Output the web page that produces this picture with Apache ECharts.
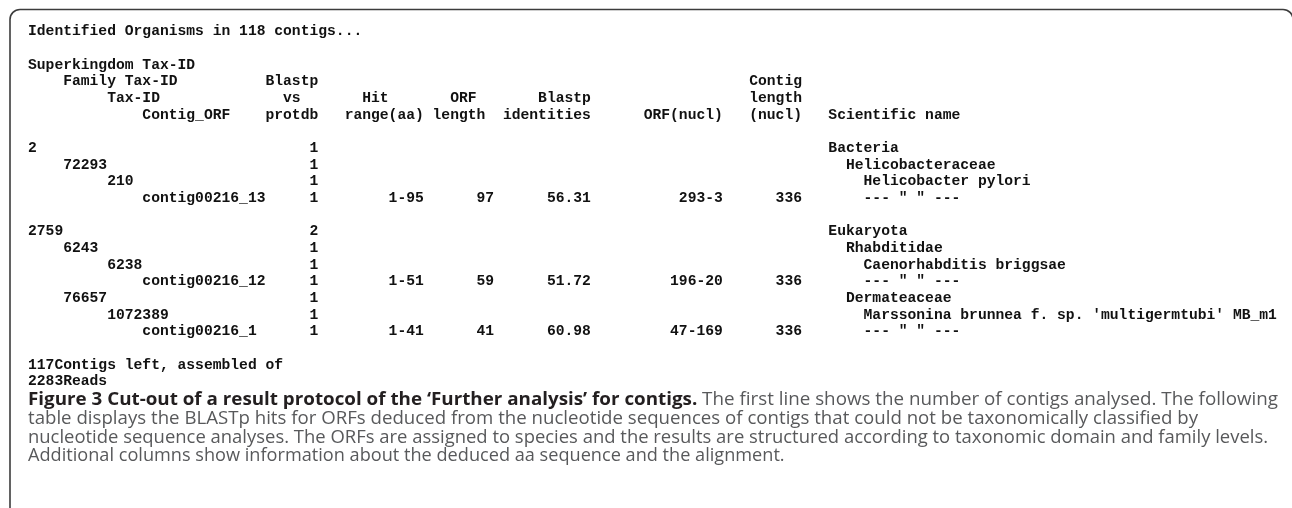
<!DOCTYPE html>
<html><head><meta charset="utf-8">
<script src="https://cdn.jsdelivr.net/npm/echarts@6/dist/echarts.min.js"></script>
<style>html,body{margin:0;padding:0;background:#fff}#c{width:1292px;height:508px}</style>
</head><body><div id="c"></div>
<script>
// ---------------- data ----------------
const contigsAnalysed = 118;
const contigsLeft = 117;
const readsAssembled = 2283;

const rowGroup   = [0, 0, 0, 0, 1, 1, 1, 1, 1, 1, 1];
const rowLevel   = [0, 1, 2, 3, 0, 1, 2, 3, 1, 2, 3];
const rowTaxId   = ['2', '72293', '210', 'contig00216_13', '2759', '6243', '6238', 'contig00216_12', '76657', '1072389', 'contig00216_1'];
const rowBlastpHits = [1, 1, 1, 1, 2, 1, 1, 1, 1, 1, 1];
const rowHitRange   = ['', '', '', '1-95', '', '', '', '1-51', '', '', '1-41'];
const rowOrfLength  = [null, null, null, 97, null, null, null, 59, null, null, 41];
const rowIdentities = [null, null, null, 56.31, null, null, null, 51.72, null, null, 60.98];
const rowOrfNucl    = ['', '', '', '293-3', '', '', '', '196-20', '', '', '47-169'];
const rowContigLen  = [null, null, null, 336, null, null, null, 336, null, null, 336];
const rowName = ['Bacteria', 'Helicobacteraceae', 'Helicobacter pylori', '--- " " ---',
                 'Eukaryota', 'Rhabditidae', 'Caenorhabditis briggsae', '--- " " ---',
                 'Dermateaceae', "Marssonina brunnea f. sp. 'multigermtubi' MB_m1", '--- " " ---'];

const headerLines = [
  [['Superkingdom Tax-ID', 'tax0']],
  [['Family Tax-ID', 'tax1'], ['Blastp', 'cntH'], ['Contig', 'clenH']],
  [['Tax-ID', 'tax2'], ['vs', 'cntH2'], ['Hit', 'hitH2'], ['ORF', 'lenH2'], ['Blastp', 'idH2'], ['length', 'clenH']],
  [['Contig_ORF', 'tax3'], ['protdb', 'cntH'], ['range(aa)', 'hitH'], ['length', 'lenH'], ['identities', 'idH'], ['ORF(nucl)', 'nuclH'], ['(nucl)', 'clenH'], ['Scientific name', 'nameH']]
];

const captionBold = 'Figure 3 Cut-out of a result protocol of the \u2018Further analysis\u2019 for contigs.';
const captionLines = [
  ' The first line shows the number of contigs analysed. The following',
  'table displays the BLASTp hits for ORFs deduced from the nucleotide sequences of contigs that could not be taxonomically classified by',
  'nucleotide sequence analyses. The ORFs are assigned to species and the results are structured according to taxonomic domain and family levels.',
  'Additional columns show information about the deduced aa sequence and the alignment.'
];

// ---------------- layout (character columns) ----------------
const COL = {
  tax0: 0, tax1: 4, tax2: 9, tax3: 13,
  cntH: 27, cntH2: 29, hitH: 36, hitH2: 38, lenH: 46, lenH2: 48, idH: 54, idH2: 58,
  nuclH: 70, clenH: 82, nameH: 91,
  cntEnd: 33, hitEnd: 45, lenEnd: 53, idEnd: 64, nuclEnd: 79, clenEnd: 88
};
const taxIndent = [COL.tax0, COL.tax1, COL.tax2, COL.tax3];
const nameIndent = [0, 2, 4, 4];

const MONO_SIZE = 14.67;
const MONO_FONT = 'bold ' + MONO_SIZE + 'px "Liberation Mono", monospace';
const X0 = 28, Y0 = 31.5, LH = 16.67;

function blank() { return new Array(160).fill(' '); }
function putL(a, col, s) { s = String(s); for (let i = 0; i < s.length; i++) a[col + i] = s[i]; }
function putR(a, end, s) { s = String(s); putL(a, end - s.length, s); }
function str(a) { return a.join('').replace(/\s+$/, ''); }

const lines = [];
lines.push('Identified Organisms in ' + contigsAnalysed + ' contigs...');
lines.push('');
headerLines.forEach(h => { const a = blank(); h.forEach(([t, k]) => putL(a, COL[k], t)); lines.push(str(a)); });
lines.push('');
rowTaxId.forEach((id, i) => {
  if (i > 0 && rowGroup[i] !== rowGroup[i - 1]) lines.push('');
  const a = blank();
  putL(a, taxIndent[rowLevel[i]], id);
  putR(a, COL.cntEnd, rowBlastpHits[i]);
  if (rowHitRange[i]) putR(a, COL.hitEnd, rowHitRange[i]);
  if (rowOrfLength[i] != null) putR(a, COL.lenEnd, rowOrfLength[i]);
  if (rowIdentities[i] != null) putR(a, COL.idEnd, rowIdentities[i].toFixed(2));
  if (rowOrfNucl[i]) putR(a, COL.nuclEnd, rowOrfNucl[i]);
  if (rowContigLen[i] != null) putR(a, COL.clenEnd, rowContigLen[i]);
  putL(a, COL.nameH + nameIndent[rowLevel[i]], rowName[i]);
  lines.push(str(a));
});
lines.push('');
lines.push(contigsLeft + 'Contigs left, assembled of');
lines.push(readsAssembled + 'Reads');

// ---------------- caption font fitting ----------------
const CAP_FAMILY = '"Open Sans", "Noto Sans", sans-serif';
const ctx = document.createElement('canvas').getContext('2d');
const wReg = (s, sz) => { ctx.font = sz + 'px ' + CAP_FAMILY; return ctx.measureText(s).width; };
const wBold = (s, sz) => { ctx.font = 'bold ' + sz + 'px ' + CAP_FAMILY; return ctx.measureText(s).width; };
const capEnds = [1277, 1197, 1267, 784];           // right ends of caption lines in the figure
const capMeasure = sz => [
  wBold(captionBold, sz) + wReg(captionLines[0], sz),
  wReg(captionLines[1], sz), wReg(captionLines[2], sz), wReg(captionLines[3], sz)
];
const m100 = capMeasure(100);
const capSize = 100 * ((capEnds[0] - X0) + (capEnds[1] - X0) + (capEnds[2] - X0)) / (m100[0] + m100[1] + m100[2]);
const mFit = capMeasure(capSize);
const capScale = mFit.map((w, k) => (capEnds[k] - X0) / w);

const graphics = [];
graphics.push({
  type: 'rect', silent: true,
  shape: { x: 10, y: 9.5, width: 1283, height: 530, r: 10 },
  style: { fill: 'none', stroke: '#3c3c3c', lineWidth: 1.6 }
});
lines.forEach((t, i) => {
  if (!t) return;
  graphics.push({ type: 'text', x: X0, y: Y0 + i * LH,
    style: { text: t, font: MONO_FONT, fill: '#111', verticalAlign: 'middle', align: 'left' } });
});
const CAP_Y0 = 400, CAP_LH = 18.6;
graphics.push({ type: 'text', x: X0, y: CAP_Y0, scaleX: capScale[0],
  style: {
    text: '{b|' + captionBold + '}{r|' + captionLines[0] + '}',
    verticalAlign: 'middle', align: 'left',
    rich: {
      b: { font: 'bold ' + capSize.toFixed(2) + 'px ' + CAP_FAMILY, fill: '#231f20' },
      r: { font: capSize.toFixed(2) + 'px ' + CAP_FAMILY, fill: '#58595b' }
    }
  } });
for (let k = 1; k < captionLines.length; k++) {
  graphics.push({ type: 'text', x: X0, y: CAP_Y0 + k * CAP_LH, scaleX: capScale[k],
    style: { text: captionLines[k], font: capSize.toFixed(2) + 'px ' + CAP_FAMILY, fill: '#58595b', verticalAlign: 'middle', align: 'left' } });
}

const chart = echarts.init(document.getElementById('c'), null, { renderer: 'canvas' });
chart.setOption({ backgroundColor: '#fff', animation: false, graphic: { elements: graphics } });
</script>
</body></html>
